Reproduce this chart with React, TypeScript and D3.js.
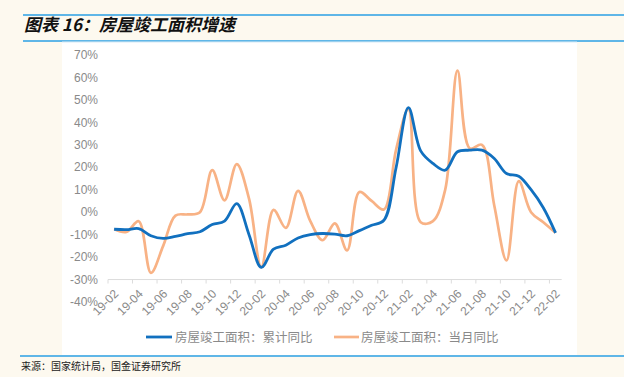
import React from "react";
import * as d3 from "d3";

const months = [
  "19-02","19-03","19-04","19-05","19-06","19-07","19-08","19-09","19-10","19-11","19-12",
  "20-01","20-02","20-03","20-04","20-05","20-06","20-07","20-08","20-09","20-10","20-11","20-12",
  "21-01","21-02","21-03","21-04","21-05","21-06","21-07","21-08","21-09","21-10","21-11","21-12",
  "22-01","22-02",
];
const cumulative = [
  -7.6, -7.8, -7.3, -10.5, -11.7, -10.8, -9.6, -8.7, -5.5, -4, 3.8,
  -10, -24.6, -16.5, -14.7, -11.5, -10, -9.5, -9.8, -10.5, -8.2, -5.8, -3.6,
  20, 46.6, 27.3, 21.7, 18.7, 26.9, 27.6, 27.6, 23.9, 17.2, 16, 10,
  2, -9.2,
];
const monthly = [
  -7.5, -8.8, -4, -27, -15, -1.5, -1, 0, 18.7, 5.3, 21.4,
  6, -24.5, 1, -7, 9.5, -4, -12.5, -5, -17, 9, 5, 1.2,
  28, 46, -4.5, -4, 10, 63, 28.4, 30, 3, -21.5, 13.8, 0,
  -4.5, -9.2,
];
const yTicks = [70, 60, 50, 40, 30, 20, 10, 0, -10, -20, -30, -40];
const seriesNames = ["房屋竣工面积：累计同比", "房屋竣工面积：当月同比"];
const title = "图表 16：房屋竣工面积增速";
const source = "来源：国家统计局，国金证券研究所";

const BLUE = "#1170bf";
const ORANGE = "#f8b285";
const GRAY = "#8a8a8a";
const ACCENT = "#2a9fe4";

export default function App() {
  const x = d3.scaleBand<string>().domain(months).range([108, 561.7]).padding(0);
  const y = d3.scaleLinear().domain([-40, 70]).range([302, 55]);
  const cx = (i: number) => (x(months[i]) as number) + x.bandwidth() / 2;
  const line = d3
    .line<number>()
    .x((_, i) => cx(i))
    .y((d) => y(d))
    .curve(d3.curveCatmullRom.alpha(0.5));
  const axisY = y(-30);
  const tickIdx = months.map((_, i) => i).filter((i) => i % 2 === 0);
  const cjk = "'Noto Sans CJK SC', 'Noto Sans', sans-serif";
  const latin = "'Liberation Sans', Arial, sans-serif";

  return (
    <svg
      width={624}
      height={377}
      style={{ position: "absolute", left: 0, top: 0 }}
    >
      <rect x={0} y={0} width={624} height={377} fill="#fdf9ef" />
      <line x1={23} x2={624} y1={15} y2={15} stroke={ACCENT} strokeWidth={1.5} />
      <text
        x={24}
        y={31}
        fontFamily={cjk}
        fontSize={17}
        fontWeight="bold"
        fontStyle="italic"
        fill="#111"
      >
        {title}
      </text>
      <line x1={23} x2={624} y1={41} y2={41} stroke={ACCENT} strokeWidth={1.5} />
      <rect x={62} y={42} width={515} height={313} fill="#ffffff" />
      <line x1={62} x2={577} y1={42} y2={42} stroke="#d8eaf5" strokeWidth={1} />

      {yTicks.map((t) => (
        <text
          key={t}
          x={98}
          y={y(t)}
          dy="0.35em"
          textAnchor="end"
          fontFamily={latin}
          fontSize={12}
          fill={GRAY}
        >
          {`${t}%`}
        </text>
      ))}

      <line x1={108} x2={561.7} y1={axisY} y2={axisY} stroke="#dcdcdc" strokeWidth={1} />
      {d3.range(0, months.length + 1, 2).map((k) => {
        const tx = 108 + k * x.step();
        return (
          <line key={k} x1={tx} x2={tx} y1={axisY} y2={axisY + 4} stroke="#dcdcdc" strokeWidth={1} />
        );
      })}
      {tickIdx.map((i) => (
        <text
          key={months[i]}
          transform={`translate(${cx(i) + 5},${axisY + 15}) rotate(-45)`}
          textAnchor="end"
          fontFamily={latin}
          fontSize={12}
          fill={GRAY}
        >
          {months[i]}
        </text>
      ))}

      <path d={line(monthly) || ""} fill="none" stroke={ORANGE} strokeWidth={2.7} />
      <path d={line(cumulative) || ""} fill="none" stroke={BLUE} strokeWidth={2.8} />

      <line x1={146} x2={172} y1={337} y2={337} stroke={BLUE} strokeWidth={2.8} />
      <text x={175} y={341.5} fontFamily={cjk} fontSize={12.5} fill={GRAY}>
        {seriesNames[0]}
      </text>
      <line x1={334} x2={359} y1={337} y2={337} stroke={ORANGE} strokeWidth={2.7} />
      <text x={361} y={341.5} fontFamily={cjk} fontSize={12.5} fill={GRAY}>
        {seriesNames[1]}
      </text>

      <line x1={20} x2={624} y1={356} y2={356} stroke={ACCENT} strokeWidth={1.5} />
      <text x={21} y={370} fontFamily={cjk} fontSize={10} fill="#222">
        {source}
      </text>
    </svg>
  );
}
